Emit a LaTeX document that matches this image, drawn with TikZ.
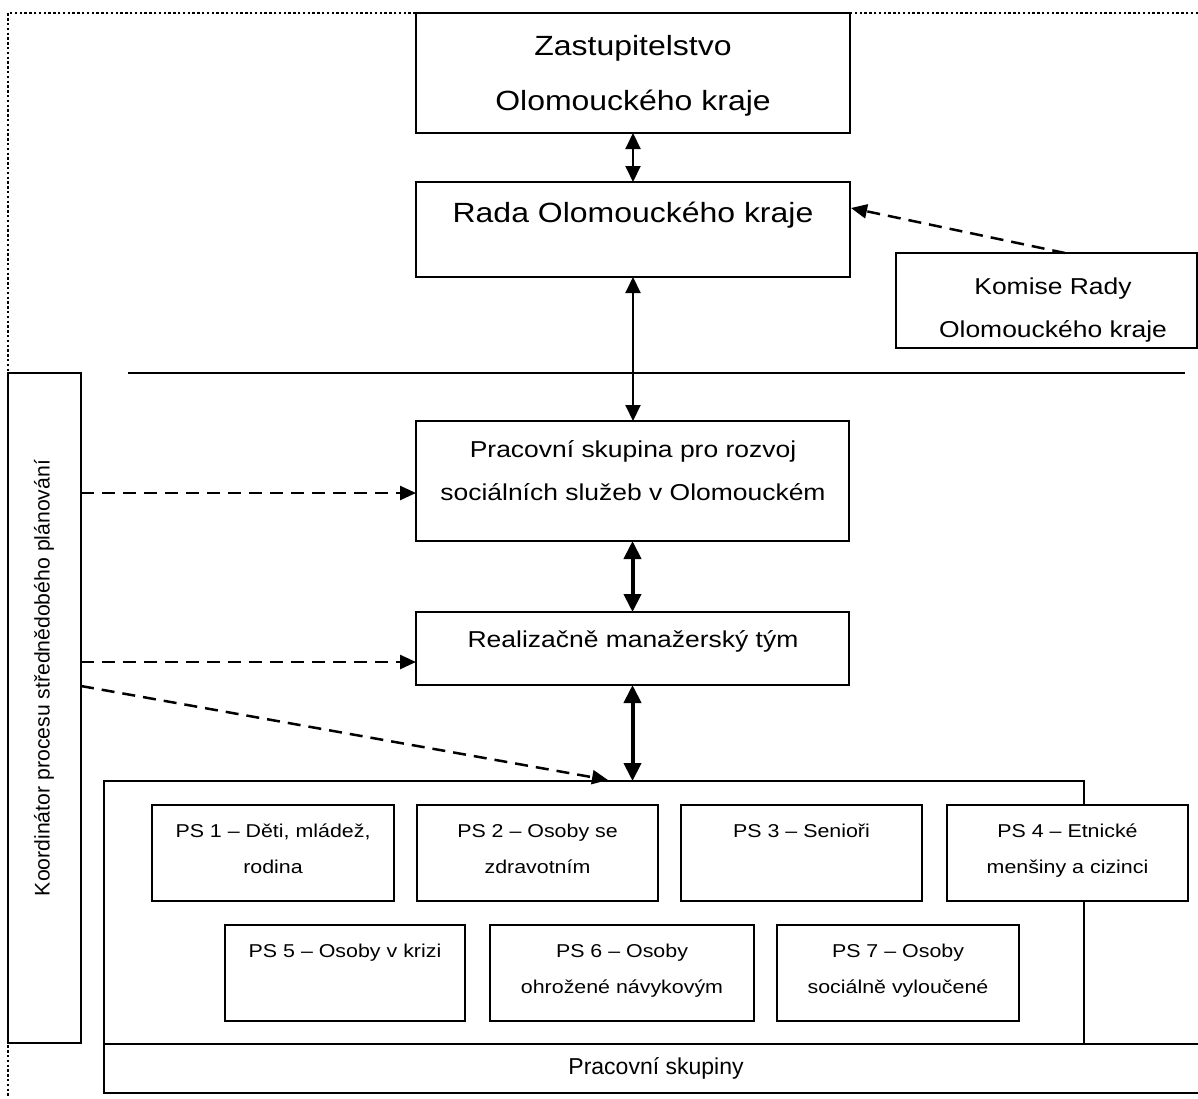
\documentclass[tikz,border=0pt]{standalone}
\usepackage{fontspec}
\setmainfont{Liberation Sans}[FakeStretch=1.15]
\newfontfamily\plainsans{Liberation Sans}
\usetikzlibrary{arrows.meta}
\begin{document}
\begin{tikzpicture}[x=1pt,y=-1pt,
  box/.style={draw, line width=1.6pt, fill=white, inner sep=0pt, outer sep=0pt},
  lbl/.style={inner sep=0pt, anchor=base},
  big/.style={font=\fontsize{27.8}{33}\selectfont},
  mid/.style={font=\fontsize{23}{28}\selectfont},
  small/.style={font=\fontsize{18.6}{22}\selectfont},
  thinarr/.style={line width=2pt, {Triangle[length=16pt,width=15pt]}-{Triangle[length=16pt,width=15pt]}},
  thickarr/.style={line width=4pt, {Triangle[length=18pt,width=17pt]}-{Triangle[length=18pt,width=17pt]}},
  dasharr/.style={line width=2.5pt, dash pattern=on 13pt off 8pt, -{Triangle[length=16pt,width=14pt]}},
  dotborder/.style={line width=2.4pt, dash pattern=on 2.4pt off 2.4pt},
]
\useasboundingbox (0,0) rectangle (1198,1098);

% dotted frame
\coordinate (bTR) at (1198,13);
\coordinate (bTL) at (8,13);
\coordinate (bBL) at (8,1098);
\draw[dotborder] (bTR) -- (bTL) -- (bBL);

% top boxes
\node[box, minimum width=434pt, minimum height=120pt] (zast) at (633,73) {};
\node[lbl,big] (zastA) at (633,55) {Zastupitelstvo};
\node[lbl,big] (zastB) at (633,110) {Olomouckého kraje};

\node[box, minimum width=434pt, minimum height=95pt] (rada) at (633,229.5) {};
\node[lbl,big] (radaA) at (633,222) {Rada Olomouckého kraje};

\node[box, minimum width=301pt, minimum height=95pt] (komise) at (1046.5,300.5) {};
\node[lbl,mid] (komA) at (1053,294) {Komise Rady};
\node[lbl,mid] (komB) at (1053,337) {Olomouckého kraje};

% separator line
\coordinate (hlA) at (128,373);
\coordinate (hlB) at (1185,373);
\draw[line width=1.5pt] (hlA) -- (hlB);

% middle boxes
\node[box, minimum width=433pt, minimum height=120pt] (psrozvoj) at (632.5,481) {};
\node[lbl,mid] (psrA) at (633,457) {Pracovní skupina pro rozvoj};
\node[lbl,mid] (psrB) at (633,500) {sociálních služeb v Olomouckém};

\node[box, minimum width=433pt, minimum height=73pt] (real) at (632.5,648.5) {};
\node[lbl,mid] (realA) at (633,647) {Realizačně manažerský tým};

% coordinator
\node[box, minimum width=73pt, minimum height=670pt] (koord) at (44.5,708) {};
\node[inner sep=0pt, rotate=90, font=\plainsans\fontsize{21.2}{25}\selectfont] (koordA) at (44,678) {Koordinátor procesu střednědobého plánování};

% container and bottom strip
\node[box, minimum width=980pt, minimum height=263pt] (cont) at (594,912.5) {};
\node[box, minimum width=1101pt, minimum height=49pt] (bottom) at (654.5,1068.5) {};
\node[lbl, font=\plainsans\fontsize{23}{27}\selectfont] (bottomA) at (656,1074) {Pracovní skupiny};

% PS boxes row 1
\node[box, minimum width=242pt, minimum height=96pt] (ps1) at (273,853) {};
\node[lbl,small] (ps1A) at (273,837) {PS 1 – Děti, mládež,};
\node[lbl,small] (ps1B) at (273,873) {rodina};

\node[box, minimum width=241pt, minimum height=96pt] (ps2) at (537.5,853) {};
\node[lbl,small] (ps2A) at (537.5,837) {PS 2 – Osoby se};
\node[lbl,small] (ps2B) at (537.5,873) {zdravotním};

\node[box, minimum width=241pt, minimum height=96pt] (ps3) at (801.5,853) {};
\node[lbl,small] (ps3A) at (801.5,837) {PS 3 – Senioři};

\node[box, minimum width=241pt, minimum height=96pt] (ps4) at (1067.5,853) {};
\node[lbl,small] (ps4A) at (1067.5,837) {PS 4 – Etnické};
\node[lbl,small] (ps4B) at (1067.5,873) {menšiny a cizinci};

% PS boxes row 2
\node[box, minimum width=240pt, minimum height=96pt] (ps5) at (345,973) {};
\node[lbl,small] (ps5A) at (345,957) {PS 5 – Osoby v krizi};

\node[box, minimum width=264pt, minimum height=96pt] (ps6) at (622,973) {};
\node[lbl,small] (ps6A) at (622,957) {PS 6 – Osoby};
\node[lbl,small] (ps6B) at (622,993) {ohrožené návykovým};

\node[box, minimum width=242pt, minimum height=96pt] (ps7) at (898,973) {};
\node[lbl,small] (ps7A) at (898,957) {PS 7 – Osoby};
\node[lbl,small] (ps7B) at (898,993) {sociálně vyloučené};

% vertical connectors
\draw[thinarr] (zast.south) -- (rada.north);
\draw[thinarr] (rada.south) -- (rada.south |- psrozvoj.north);
\draw[thickarr] (psrozvoj.south) -- (psrozvoj.south |- real.north);
\draw[thickarr] (real.south) -- (real.south |- cont.north);

% dashed connectors
\coordinate (komS) at (1065,253);
\coordinate (radaE) at (851,208);
\draw[dasharr] (komS) -- (radaE);

\coordinate (k1) at (81,493);
\coordinate (k2) at (81,662);
\coordinate (k3) at (81,686);
\coordinate (c3) at (608,780);
\draw[dasharr] (k1) -- (psrozvoj.west |- k1);
\draw[dasharr] (k2) -- (real.west |- k2);
\draw[dasharr] (k3) -- (c3);
\end{tikzpicture}
\end{document}
